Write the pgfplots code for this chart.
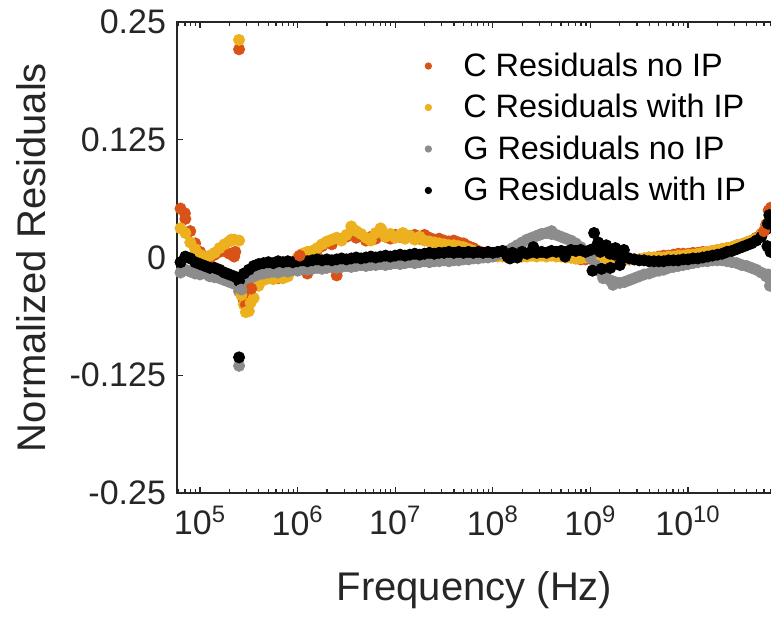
\documentclass[border=0pt]{standalone}
\usepackage{pgfplots}
\usepackage{pgfplotstable}
\pgfplotsset{compat=1.18}
\usepackage{fontspec}
\setmainfont{Liberation Sans}
\definecolor{cno}{rgb}{0.85,0.325,0.098}
\definecolor{cwi}{rgb}{0.929,0.694,0.125}
\definecolor{gno}{rgb}{0.55,0.55,0.55}
\definecolor{gwi}{rgb}{0,0,0}
\definecolor{axc}{rgb}{0.15,0.15,0.15}

\pgfplotstableread{
f cn cw gn gw
6.310e4 0.052 0.031 -0.016 -0.005
7.079e4 0.041 0.026 -0.013 0.001
7.943e4 0.028 0.016 -0.015 -0.001
8.913e4 0.015 0.009 -0.017 -0.005
1.000e5 0.006 0.003 -0.018 -0.007
1.122e5 0.001 0.000 -0.017 -0.009
1.259e5 -0.001 0.002 -0.020 -0.011
1.413e5 0.003 0.005 -0.021 -0.011
1.585e5 0.006 0.010 -0.022 -0.013
1.778e5 0.007 0.014 -0.024 -0.016
1.995e5 0.004 0.017 -0.026 -0.018
2.239e5 0.001 0.019 -0.028 -0.020
2.512e5 -0.028 0.018 -0.036 -0.025
2.818e5 -0.046 -0.050 -0.029 -0.017
3.162e5 -0.040 -0.057 -0.023 -0.013
3.548e5 -0.030 -0.043 -0.020 -0.009
3.981e5 -0.024 -0.030 -0.018 -0.007
4.467e5 -0.023 -0.024 -0.017 -0.006
5.012e5 -0.022 -0.022 -0.016 -0.005
5.623e5 -0.021 -0.023 -0.015 -0.006
6.310e5 -0.022 -0.021 -0.016 -0.004
7.079e5 -0.020 -0.022 -0.014 -0.005
7.943e5 -0.018 -0.020 -0.015 -0.004
8.913e5 -0.012 -0.010 -0.013 -0.005
1.000e6 -0.004 0.000 -0.014 -0.004
1.122e6 0.000 0.004 -0.012 -0.003
1.259e6 -0.017 0.006 -0.013 -0.004
1.413e6 0.004 0.007 -0.012 -0.003
1.585e6 0.008 0.010 -0.011 -0.002
1.778e6 0.012 0.014 -0.012 -0.003
1.995e6 0.016 0.017 -0.011 -0.002
2.239e6 0.014 0.019 -0.010 -0.003
2.512e6 -0.019 0.021 -0.011 -0.002
2.818e6 0.020 0.018 -0.010 -0.001
3.162e6 0.022 0.024 -0.009 -0.002
3.548e6 0.026 0.033 -0.010 -0.001
3.981e6 0.021 0.028 -0.009 0.000
4.467e6 0.024 0.025 -0.008 -0.001
5.012e6 0.018 0.021 -0.009 0.000
5.623e6 0.022 0.018 -0.008 0.001
6.310e6 0.020 0.026 -0.008 0.000
7.079e6 0.027 0.031 -0.007 0.001
7.943e6 0.022 0.022 -0.008 0.002
8.913e6 0.020 0.025 -0.007 0.001
1.000e7 0.024 0.021 -0.006 0.002
1.122e7 0.022 0.024 -0.007 0.003
1.259e7 0.021 0.020 -0.006 0.002
1.413e7 0.023 0.023 -0.005 0.003
1.585e7 0.024 0.019 -0.006 0.004
1.778e7 0.020 0.022 -0.005 0.003
1.995e7 0.024 0.018 -0.004 0.004
2.239e7 0.021 0.017 -0.005 0.005
2.512e7 0.019 0.016 -0.004 0.004
2.818e7 0.020 0.015 -0.004 0.005
3.162e7 0.018 0.014 -0.003 0.005
3.548e7 0.017 0.013 -0.004 0.006
3.981e7 0.018 0.013 -0.003 0.005
4.467e7 0.016 0.012 -0.003 0.006
5.012e7 0.015 0.011 -0.002 0.005
5.623e7 0.012 0.009 -0.002 0.006
6.310e7 0.010 0.007 -0.001 0.005
7.079e7 0.007 0.005 -0.001 0.006
7.943e7 0.005 0.003 0.000 0.005
8.913e7 0.004 0.002 0.000 0.006
1.000e8 0.004 0.002 0.001 0.005
1.122e8 0.003 0.001 0.003 0.006
1.259e8 0.004 0.001 0.005 0.007
1.413e8 0.003 0.000 0.007 0.001
1.585e8 0.004 0.001 0.010 0.005
1.778e8 0.003 0.000 0.013 0.000
1.995e8 0.004 0.001 0.016 0.006
2.239e8 0.003 0.001 0.019 0.004
2.512e8 0.004 0.002 0.021 0.006
2.818e8 0.003 0.001 0.023 0.005
3.162e8 0.004 0.002 0.025 0.006
3.548e8 0.003 0.001 0.026 0.005
3.981e8 0.004 0.002 0.025 0.007
4.467e8 0.003 0.001 0.024 0.006
5.012e8 0.002 0.001 0.022 0.007
5.623e8 0.001 0.000 0.020 0.006
6.310e8 0.000 0.000 0.018 0.008
7.079e8 -0.001 -0.001 0.015 0.007
7.943e8 -0.002 -0.001 0.011 0.008
8.913e8 -0.002 0.000 0.006 0.006
1.000e9 0.000 0.001 0.000 0.008
1.122e9 0.002 0.002 -0.008 0.010
1.259e9 0.001 0.001 -0.015 0.006
1.413e9 0.000 0.000 -0.020 0.008
1.585e9 0.000 0.000 -0.024 0.004
1.778e9 -0.001 -0.001 -0.026 0.003
1.995e9 -0.001 -0.001 -0.027 0.002
2.239e9 -0.002 -0.002 -0.026 0.000
2.512e9 -0.002 -0.002 -0.024 -0.001
2.818e9 -0.002 -0.002 -0.022 -0.002
3.162e9 -0.002 -0.002 -0.020 -0.003
3.548e9 -0.001 -0.001 -0.018 -0.003
3.981e9 0.000 0.000 -0.017 -0.004
4.467e9 0.000 0.000 -0.015 -0.004
5.012e9 0.001 0.000 -0.014 -0.004
5.623e9 0.002 0.000 -0.013 -0.004
6.310e9 0.002 0.001 -0.011 -0.003
7.079e9 0.003 0.001 -0.010 -0.003
7.943e9 0.004 0.002 -0.009 -0.003
8.913e9 0.004 0.002 -0.008 -0.002
1.000e10 0.004 0.003 -0.007 -0.002
1.122e10 0.005 0.003 -0.006 -0.001
1.259e10 0.005 0.004 -0.005 -0.001
1.413e10 0.006 0.005 -0.004 0.000
1.585e10 0.006 0.006 -0.004 0.001
1.778e10 0.007 0.007 -0.003 0.002
1.995e10 0.008 0.008 -0.003 0.003
2.239e10 0.009 0.009 -0.003 0.004
2.512e10 0.010 0.010 -0.004 0.006
2.818e10 0.011 0.011 -0.005 0.007
3.162e10 0.013 0.013 -0.006 0.009
3.548e10 0.014 0.014 -0.008 0.011
3.981e10 0.016 0.016 -0.009 0.013
4.467e10 0.018 0.018 -0.011 0.015
5.012e10 0.021 0.020 -0.013 0.018
5.623e10 0.025 0.024 -0.016 0.022
6.310e10 0.035 0.032 -0.020 0.030
7.079e10 0.053 0.045 -0.024 0.040
}\datatab

\begin{document}
\begin{tikzpicture}
\begin{axis}[
  name=ax,
  at={(0,0)}, anchor=south west,
  scale only axis,
  width=297.5pt, height=235.5pt,
  xmode=log,
  xmin=5.81e4, xmax=7.25e10,
  ymin=-0.25, ymax=0.25,
  ytick={-0.25,-0.125,0,0.125,0.25},
  yticklabels={-0.25,-0.125,0,0.125,0.25},
  xtick={1e5,1e6,1e7,1e8,1e9,1e10},
  xticklabels={10\textsuperscript{5},10\textsuperscript{6},10\textsuperscript{7},10\textsuperscript{8},10\textsuperscript{9},10\textsuperscript{10}},
  minor xtick={6e4,7e4,8e4,9e4,2e5,3e5,4e5,5e5,6e5,7e5,8e5,9e5,2e6,3e6,4e6,5e6,6e6,7e6,8e6,9e6,2e7,3e7,4e7,5e7,6e7,7e7,8e7,9e7,2e8,3e8,4e8,5e8,6e8,7e8,8e8,9e8,2e9,3e9,4e9,5e9,6e9,7e9,8e9,9e9,2e10,3e10,4e10,5e10,6e10,7e10},
  tick align=inside,
  ytick pos=left,
  major tick length=3.2pt,
  minor tick length=1.8pt,
  axis line style={axc, line width=0.7pt},
  every tick/.style={axc, line width=0.6pt},
  tick label style={font=\fontsize{17}{20}\selectfont, text=axc},
  yticklabel style={xshift=-2pt},
  xticklabel style={yshift=-3pt},
  xlabel={Frequency (Hz)},
  ylabel={Normalized Residuals},
  label style={font=\fontsize{20}{23}\selectfont, text=axc},
  xlabel style={at={(axis description cs:0.5,-0.206)}, anchor=center},
  ylabel style={at={(axis description cs:-0.245,0.5)}, anchor=center},
  legend cell align=left,
  legend style={draw=none, fill=none, at={(rel axis cs:0.41,0.944)}, anchor=north west,
    font=\fontsize{16.2}{19}\selectfont, text=black, row sep=3.5pt, inner sep=0pt},
  legend image code/.code={\path[draw=none,fill=none] (0pt,-2pt) rectangle (19pt,2pt); \draw[#1, mark size=1.6pt] plot coordinates {(3.5pt,0pt)};},
  clip=true,
]
\addplot[only marks, mark=*, mark size=2.8pt, color=cno, mark options={draw=cno, fill=cno}] table[x=f, y=cn] {\datatab};
\addlegendentry{C Residuals no IP}
\addplot[only marks, mark=*, mark size=2.8pt, color=cwi, mark options={draw=cwi, fill=cwi}] table[x=f, y=cw] {\datatab};
\addlegendentry{C Residuals with IP}
\addplot[only marks, mark=*, mark size=2.8pt, color=gno, mark options={draw=gno, fill=gno}] table[x=f, y=gn] {\datatab};
\addlegendentry{G Residuals no IP}
\addplot[only marks, mark=*, mark size=2.8pt, color=gwi, mark options={draw=gwi, fill=gwi}] table[x=f, y=gw] {\datatab};
\addlegendentry{G Residuals with IP}
% extra scattered points
\addplot[forget plot, only marks, mark=*, mark size=2.8pt, color=cno] coordinates {
 (2.512e5,0.221) (2.65e5,-0.036) (2.95e5,-0.050) (3.35e5,-0.033) (6.7e10,0.050) (6.0e10,0.028)
 (1.05e6,0.002) (2.3e5,0.006) (7.0e4,0.047)
};
\addplot[forget plot, only marks, mark=*, mark size=2.8pt, color=cwi] coordinates {
 (2.512e5,0.231) (2.95e5,-0.058) (3.3e5,-0.048) (2.65e5,-0.040) (6.8e10,0.040) (2.1e5,0.019)
 (3.7e6,0.030) (7.3e6,0.029) (1.2e7,0.026)
};
\addplot[forget plot, only marks, mark=*, mark size=2.8pt, color=gno] coordinates {
 (2.512e5,-0.115) (2.65e5,-0.034) (6.9e10,-0.030) (6.6e10,-0.018) (1.35e9,-0.022) (1.7e9,-0.029)
 (4.0e8,0.028) (3.0e8,0.024)
};
\addplot[forget plot, only marks, mark=*, mark size=2.8pt, color=gwi] coordinates {
 (2.512e5,-0.106) (1.09e9,0.026) (1.05e9,-0.014) (1.2e9,0.016) (1.3e9,-0.012) (1.45e9,0.013)
 (1.6e9,-0.011) (1.8e9,0.010) (2.0e9,-0.008) (2.2e9,0.008) (6.8e10,0.045) (6.6e10,0.036)
 (7.0e10,0.006) (6.5e10,0.012) (1.5e8,-0.001) (2.6e8,0.011) (5.5e8,0.001)
};
\end{axis}
\pgfresetboundingbox
\path[use as bounding box] (-88.5pt,-62pt) rectangle (297pt,246.5pt);
\end{tikzpicture}
\end{document}
